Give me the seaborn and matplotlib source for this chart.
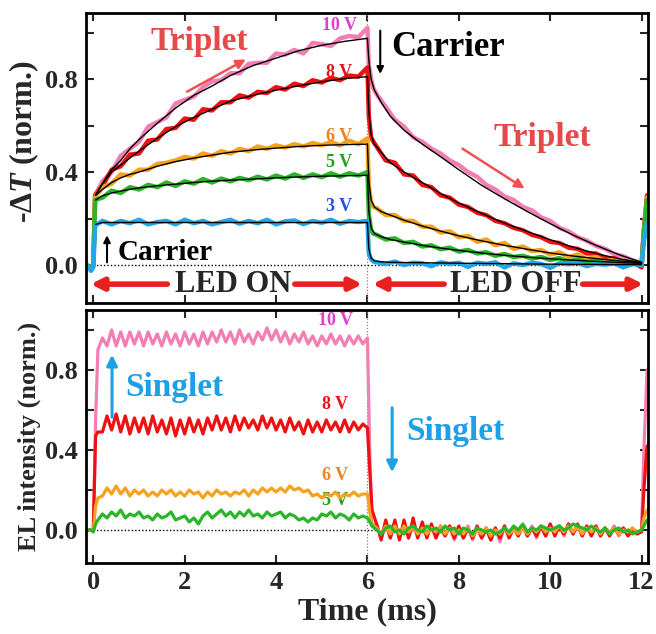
import numpy as np
import matplotlib
matplotlib.use("Agg")
from matplotlib import pyplot as plt
import seaborn as sns

sns.set_theme(style="ticks")
plt.rcParams['font.family'] = ['Liberation Serif', 'DejaVu Serif']
plt.rcParams['font.weight'] = 'bold'
plt.rcParams['mathtext.fontset'] = 'custom'
plt.rcParams['mathtext.it'] = 'Liberation Serif:italic:bold'
plt.rcParams['mathtext.rm'] = 'Liberation Serif:bold'

# ---- top panel: -dT (norm.), data samples ----
t_dt = np.concatenate([[-0.15, -0.05, 0.0, 0.04],
                       np.linspace(0.2, 6.0, 30),
                       [6.03, 6.08, 6.13],
                       np.linspace(6.2, 12.0, 30),
                       [12.05, 12.12]])

dt_10V = [0.0, -0.01, 0.0, 0.30,
          0.36, 0.40, 0.47, 0.50, 0.53, 0.595, 0.615, 0.635, 0.695, 0.71,
          0.725, 0.765, 0.79, 0.795, 0.825, 0.825, 0.865, 0.87, 0.87, 0.91,
          0.905, 0.925, 0.91, 0.955, 0.95, 0.942, 0.975, 0.985, 0.98, 1.02,
          0.86, 0.80, 0.76,
          0.735, 0.68, 0.625, 0.595, 0.55, 0.53, 0.50, 0.48, 0.45, 0.43,
          0.40, 0.38, 0.345, 0.325, 0.295, 0.28, 0.25, 0.235, 0.205, 0.19,
          0.16, 0.145, 0.12, 0.105, 0.083, 0.07, 0.048, 0.038, 0.02, 0.01,
          0.15, 0.30]
dt_8V = [0.0, -0.01, 0.0, 0.30,
         0.34, 0.41, 0.425, 0.475, 0.48, 0.535, 0.54, 0.585, 0.59, 0.63,
         0.625, 0.67, 0.665, 0.70, 0.70, 0.73, 0.72, 0.745, 0.74, 0.765,
         0.755, 0.78, 0.77, 0.795, 0.785, 0.805, 0.795, 0.815, 0.81, 0.85,
         0.64, 0.55, 0.53,
         0.51, 0.45, 0.44, 0.39, 0.385, 0.345, 0.335, 0.30, 0.29, 0.26,
         0.25, 0.225, 0.215, 0.19, 0.18, 0.16, 0.15, 0.13, 0.12, 0.10,
         0.095, 0.075, 0.07, 0.05, 0.05, 0.03, 0.03, 0.015, 0.015, -0.01,
         0.15, 0.30]
dt_6V = [0.0, -0.01, 0.0, 0.29,
         0.335, 0.35, 0.39, 0.385, 0.41, 0.41, 0.435, 0.44, 0.45, 0.465,
         0.458, 0.48, 0.47, 0.49, 0.48, 0.50, 0.49, 0.51, 0.50, 0.515,
         0.505, 0.52, 0.51, 0.525, 0.515, 0.53, 0.515, 0.535, 0.52, 0.545,
         0.34, 0.27, 0.25,
         0.245, 0.215, 0.215, 0.19, 0.19, 0.165, 0.165, 0.14, 0.145, 0.12,
         0.125, 0.10, 0.11, 0.085, 0.095, 0.07, 0.08, 0.06, 0.065, 0.045,
         0.055, 0.035, 0.045, 0.025, 0.035, 0.015, 0.025, 0.01, 0.018, 0.0,
         0.14, 0.29]
dt_5V = [0.0, -0.01, 0.0, 0.28,
         0.29, 0.32, 0.31, 0.335, 0.325, 0.345, 0.335, 0.355, 0.34, 0.36,
         0.35, 0.37, 0.355, 0.372, 0.36, 0.375, 0.365, 0.38, 0.368, 0.385,
         0.372, 0.39, 0.375, 0.39, 0.378, 0.395, 0.38, 0.395, 0.385, 0.40,
         0.22, 0.15, 0.135,
         0.13, 0.11, 0.115, 0.095, 0.10, 0.08, 0.085, 0.068, 0.075, 0.058,
         0.065, 0.05, 0.055, 0.04, 0.048, 0.035, 0.04, 0.028, 0.035, 0.022,
         0.03, 0.015, 0.025, 0.012, 0.02, 0.008, 0.015, 0.005, 0.012, 0.0,
         0.14, 0.28]
dt_3V = [0.0, -0.025, -0.01, 0.17,
         0.19, 0.175, 0.19, 0.18, 0.195, 0.175, 0.185, 0.19, 0.175, 0.195,
         0.18, 0.19, 0.175, 0.185, 0.195, 0.178, 0.19, 0.18, 0.195, 0.175,
         0.188, 0.192, 0.176, 0.19, 0.182, 0.195, 0.178, 0.19, 0.185, 0.19,
         0.05, 0.025, 0.015,
         0.012, 0.005, 0.015, 0.0, 0.01, 0.008, -0.005, 0.012, 0.005, 0.01,
         -0.008, 0.01, 0.005, 0.012, -0.01, 0.008, 0.0, 0.01, 0.005, -0.012,
         0.008, 0.004, 0.01, -0.005, 0.006, 0.002, 0.008, -0.01, 0.005, 0.0,
         0.10, 0.18]

# fitted curves (black lines)
t_fit_on = [0.05, 0.2, 0.4, 0.6, 0.8, 1.0, 1.4, 1.8, 2.2, 2.6, 3.0, 3.5, 4.0, 4.5, 5.0, 5.5, 6.0]
t_fit_off = [6.0, 6.03, 6.08, 6.15, 6.3, 6.5, 6.8, 7.2, 7.6, 8.0, 8.5, 9.0, 9.5, 10.0, 10.5, 11.0, 11.5, 12.0]
fit_on = {
    '10V': [0.30, 0.35, 0.41, 0.45, 0.50, 0.54, 0.61, 0.675, 0.73, 0.77, 0.815, 0.858, 0.89, 0.922, 0.945, 0.962, 0.975],
    '8V': [0.30, 0.35, 0.40, 0.43, 0.46, 0.49, 0.545, 0.595, 0.635, 0.67, 0.705, 0.73, 0.752, 0.771, 0.788, 0.802, 0.81],
    '6V': [0.30, 0.325, 0.355, 0.375, 0.39, 0.40, 0.425, 0.445, 0.46, 0.473, 0.485, 0.495, 0.503, 0.51, 0.515, 0.518, 0.52],
    '5V': [0.28, 0.298, 0.31, 0.318, 0.326, 0.332, 0.341, 0.348, 0.355, 0.361, 0.365, 0.37, 0.375, 0.379, 0.382, 0.384, 0.386],
    '3V': [0.175, 0.183, 0.183, 0.183, 0.183, 0.183, 0.183, 0.183, 0.183, 0.183, 0.183, 0.183, 0.183, 0.183, 0.183, 0.183, 0.183],
}
fit_off = {
    '10V': [0.975, 0.88, 0.80, 0.753, 0.70, 0.64, 0.58, 0.52, 0.466, 0.41, 0.343, 0.285, 0.23, 0.178, 0.129, 0.085, 0.045, 0.012],
    '8V': [0.81, 0.66, 0.56, 0.52, 0.485, 0.44, 0.40, 0.355, 0.308, 0.267, 0.222, 0.18, 0.144, 0.109, 0.077, 0.05, 0.027, 0.01],
    '6V': [0.52, 0.36, 0.28, 0.25, 0.23, 0.215, 0.193, 0.168, 0.146, 0.126, 0.104, 0.085, 0.068, 0.052, 0.039, 0.028, 0.018, 0.009],
    '5V': [0.386, 0.23, 0.16, 0.136, 0.122, 0.11, 0.099, 0.085, 0.073, 0.063, 0.052, 0.042, 0.034, 0.027, 0.021, 0.016, 0.011, 0.007],
    '3V': [0.183, 0.07, 0.03, 0.018, 0.014, 0.012, 0.011, 0.01, 0.009, 0.008, 0.007, 0.006, 0.005, 0.004, 0.003, 0.003, 0.002, 0.002],
}

# ---- bottom panel: EL intensity (norm.) ----
t_el = np.concatenate([[-0.15, -0.05, 0.0, 0.05],
                       np.linspace(0.1, 6.0, 60),
                       [6.05],
                       np.linspace(6.1, 12.0, 60),
                       [12.05, 12.12]])

el_10V = [0.0, 0.0, 0.0, 0.55,
          0.90, 0.96, 0.92, 1.00, 0.92, 0.99, 0.92, 0.99, 0.93, 0.99,
          0.92, 0.99, 0.93, 0.98, 0.92, 0.99, 0.93, 0.98, 0.92, 0.99,
          0.93, 0.98, 0.92, 0.99, 0.93, 0.99, 0.94, 1.00, 0.94, 0.99,
          0.93, 1.00, 0.94, 0.98, 0.93, 0.99, 0.95, 1.01, 0.95, 1.00,
          0.94, 0.99, 0.93, 0.98, 0.94, 0.99, 0.93, 0.97, 0.92, 0.97,
          0.93, 0.98, 0.93, 0.97, 0.92, 0.97, 0.93, 0.97, 0.93, 0.96,
          0.40,
          0.02, 0.03, -0.04, 0.02, -0.04, 0.03, -0.03, 0.02, -0.04, 0.02,
          -0.03, 0.01, -0.03, 0.02, -0.04, 0.01, -0.03, 0.02, -0.05, 0.01,
          -0.04, 0.02, -0.05, 0.01, -0.04, 0.0, -0.05, 0.01, -0.06, 0.02,
          -0.03, 0.01, -0.03, 0.02, -0.03, 0.02, -0.04, 0.02, -0.03, 0.03,
          -0.02, 0.02, -0.03, 0.03, -0.02, 0.02, -0.03, 0.02, -0.02, 0.02,
          -0.03, 0.01, -0.02, 0.02, -0.03, 0.01, -0.02, 0.01, -0.02, 0.0,
          0.40, 0.80]
el_8V = [0.0, 0.0, 0.0, 0.47,
         0.49, 0.49, 0.57, 0.50, 0.58, 0.49, 0.57, 0.48, 0.56, 0.49,
         0.56, 0.48, 0.57, 0.49, 0.55, 0.48, 0.56, 0.47, 0.55, 0.48,
         0.56, 0.49, 0.55, 0.48, 0.56, 0.50, 0.57, 0.50, 0.56, 0.49,
         0.57, 0.50, 0.56, 0.51, 0.55, 0.50, 0.57, 0.51, 0.56, 0.50,
         0.55, 0.49, 0.56, 0.50, 0.54, 0.48, 0.55, 0.49, 0.54, 0.49,
         0.55, 0.50, 0.54, 0.49, 0.55, 0.49, 0.54, 0.50, 0.53, 0.51,
         0.30,
         0.10, 0.03, -0.05, 0.05, -0.04, 0.05, -0.05, 0.05, -0.04, 0.06,
         -0.04, 0.04, -0.04, 0.03, -0.04, 0.02, -0.03, 0.02, -0.04, 0.02,
         -0.04, 0.01, -0.04, 0.02, -0.04, 0.01, -0.05, 0.01, -0.04, 0.02,
         -0.04, 0.01, -0.03, 0.02, -0.03, 0.01, -0.03, 0.02, -0.03, 0.03,
         -0.03, 0.02, -0.02, 0.03, -0.02, 0.03, -0.03, 0.02, -0.03, 0.02,
         -0.03, 0.01, -0.03, 0.01, -0.02, 0.01, -0.03, 0.0, -0.02, -0.01,
         0.20, 0.42]
el_6V = [0.0, 0.0, 0.0, 0.12,
         0.16, 0.17, 0.21, 0.18, 0.22, 0.18, 0.21, 0.17, 0.20, 0.18,
         0.20, 0.17, 0.19, 0.17, 0.20, 0.18, 0.20, 0.17, 0.19, 0.17,
         0.20, 0.18, 0.19, 0.16, 0.19, 0.17, 0.20, 0.18, 0.19, 0.17,
         0.19, 0.18, 0.20, 0.17, 0.20, 0.18, 0.21, 0.19, 0.21, 0.19,
         0.21, 0.19, 0.22, 0.20, 0.21, 0.19, 0.20, 0.17, 0.18, 0.16,
         0.18, 0.17, 0.19, 0.16, 0.18, 0.17, 0.19, 0.17, 0.18, 0.18,
         0.09,
         0.03, 0.01, -0.02, 0.02, -0.02, 0.02, -0.02, 0.02, -0.01, 0.02,
         -0.02, 0.01, -0.02, 0.01, -0.01, 0.02, -0.02, 0.01, -0.02, 0.0,
         -0.02, 0.01, -0.03, 0.0, -0.02, 0.01, -0.03, 0.0, -0.02, 0.01,
         -0.02, 0.0, -0.02, 0.01, -0.02, 0.01, -0.01, 0.02, -0.01, 0.01,
         -0.01, 0.02, -0.01, 0.02, -0.01, 0.02, -0.02, 0.01, -0.01, 0.01,
         -0.02, 0.01, -0.01, 0.01, -0.02, 0.0, -0.01, 0.01, -0.01, 0.0,
         0.06, 0.10]
el_5V = [0.0, 0.0, -0.01, 0.03,
         0.05, 0.08, 0.06, 0.09, 0.07, 0.10, 0.06, 0.08, 0.07, 0.09,
         0.06, 0.07, 0.05, 0.08, 0.06, 0.07, 0.09, 0.05, 0.06, 0.07,
         0.04, 0.06, 0.03, 0.07, 0.09, 0.06, 0.08, 0.10, 0.07, 0.09,
         0.06, 0.09, 0.07, 0.10, 0.07, 0.08, 0.06, 0.09, 0.07, 0.08,
         0.09, 0.06, 0.08, 0.07, 0.05, 0.06, 0.04, 0.06, 0.05, 0.08,
         0.07, 0.09, 0.06, 0.08, 0.07, 0.05, 0.08, 0.06, 0.07, 0.06,
         0.04,
         0.02, 0.0, -0.02, 0.01, 0.02, -0.01, 0.0, -0.02, 0.01, 0.02,
         0.0, -0.01, 0.02, 0.0, 0.01, -0.01, 0.02, 0.0, 0.01, -0.02,
         0.01, 0.0, -0.02, 0.01, 0.0, -0.01, 0.0, -0.02, -0.01, 0.01,
         -0.01, 0.02, 0.0, 0.03, -0.01, 0.01, 0.0, 0.02, 0.01, 0.0,
         0.01, 0.02, 0.0, 0.01, 0.03, 0.02, 0.01, 0.0, 0.02, 0.0,
         -0.01, 0.01, -0.02, 0.0, 0.01, -0.01, 0.0, -0.02, -0.01, 0.0,
         0.02, 0.05]

colors = {'10V': '#f37eb4', '8V': '#ee1111', '6V': '#f6a21e', '5V': '#2bb52b', '3V': '#23a7e8'}
label_colors = {'10V': '#e040c8', '8V': '#e8101a', '6V': '#f08020', '5V': '#20a020', '3V': '#2050e0'}
tri_red = '#e84848'
sky = '#1ea0e6'

fig = plt.figure(figsize=(6.56, 6.34), dpi=100)
ax1 = fig.add_axes([0.1311, 0.5221, 0.8567, 0.4574])
ax2 = fig.add_axes([0.1311, 0.1120, 0.8567, 0.3991])

# top panel
for key, vals in [('10V', dt_10V), ('8V', dt_8V), ('6V', dt_6V), ('5V', dt_5V), ('3V', dt_3V)]:
    sns.lineplot(x=t_dt, y=vals, ax=ax1, color=colors[key], lw=3.2, estimator=None, sort=False)
for key in ['10V', '8V', '6V', '5V', '3V']:
    sns.lineplot(x=t_fit_on, y=fit_on[key], ax=ax1, color='black', lw=1.0, estimator=None, sort=False)
    sns.lineplot(x=t_fit_off, y=fit_off[key], ax=ax1, color='black', lw=1.0, estimator=None, sort=False)

# bottom panel
for key, vals in [('10V', el_10V), ('8V', el_8V), ('6V', el_6V), ('5V', el_5V)]:
    sns.lineplot(x=t_el, y=vals, ax=ax2, color=colors[key], lw=2.3, estimator=None, sort=False)

for ax in (ax1, ax2):
    ax.plot([0, 12], [0, 0], ls=(0, (1, 1.5)), color='black', lw=1.0, zorder=1)
    ax.axvline(6, ls=(0, (1, 1.5)), color='gray', lw=0.9, zorder=1)
    ax.set_xlim(-0.16, 12.14)
    ax.set_xticks(range(0, 13, 2))
    ax.set_yticks([0, 0.2, 0.4, 0.6, 0.8, 1.0])
    ax.set_yticklabels(['0.0', '', '0.4', '', '0.8', ''])
    ax.tick_params(direction='in', length=6, width=1.5, top=True, right=True,
                   labelsize=19, pad=6)
    for sp in ax.spines.values():
        sp.set_linewidth(2.0)
        sp.set_color('black')
    ax.set_xlabel('')

ax1.set_ylim(-0.163, 1.084)
ax2.set_ylim(-0.165, 1.1)
ax1.tick_params(labelbottom=False)
for lab in ax1.get_yticklabels() + ax2.get_yticklabels() + ax2.get_xticklabels():
    lab.set_fontweight('bold')

ax1.set_ylabel(r'-$\mathit{\Delta T}$ (norm.)', fontsize=23, fontweight='bold')
ax2.set_ylabel('EL intensity (norm.)', fontsize=19, fontweight='bold')
ax2.set_xlabel('Time (ms)', fontsize=23, fontweight='bold', labelpad=2)
ax1.yaxis.set_label_coords(-0.08, 0.555)
ax2.yaxis.set_label_coords(-0.08, 0.5)

# voltage labels
top_lab = [('10V', '10 V', 1.03), ('8V', '8 V', 0.828), ('6V', '6 V', 0.555), ('5V', '5 V', 0.44), ('3V', '3 V', 0.25)]
for key, txt, yv in top_lab:
    ax1.text(5.38, yv, txt, color=label_colors[key], fontsize=13, fontweight='bold', ha='center', va='center')
bot_lab = [('10V', '10 V', 1.045), ('8V', '8 V', 0.625), ('6V', '6 V', 0.27), ('5V', '5 V', 0.145)]
for key, txt, yv in bot_lab:
    ax2.text(5.3, yv, txt, color=label_colors[key], fontsize=13, fontweight='bold', ha='center', va='center', zorder=0)

# top annotations
ax1.text(2.32, 0.96, 'Triplet', color=tri_red, fontsize=24, fontweight='bold', ha='center', va='center')
ax1.annotate('', xy=(3.39, 0.89), xytext=(2.0, 0.74),
             arrowprops=dict(arrowstyle='-|>', color='#f05050', lw=1.8, mutation_scale=14))
ax1.text(9.82, 0.55, 'Triplet', color=tri_red, fontsize=24, fontweight='bold', ha='center', va='center')
ax1.annotate('', xy=(9.49, 0.323), xytext=(8.03, 0.507),
             arrowprops=dict(arrowstyle='-|>', color='#f05050', lw=1.8, mutation_scale=14))
ax1.text(7.76, 0.935, 'Carrier', color='black', fontsize=25, fontweight='bold', ha='center', va='center')
ax1.annotate('', xy=(6.28, 0.81), xytext=(6.28, 1.02),
             arrowprops=dict(arrowstyle='-|>', color='black', lw=1.5, mutation_scale=10))
ax1.text(1.57, 0.056, 'Carrier', color='black', fontsize=21, fontweight='bold', ha='center', va='center')
ax1.annotate('', xy=(0.3, 0.14), xytext=(0.3, 0.0),
             arrowprops=dict(arrowstyle='-|>', color='black', lw=1.5, mutation_scale=10))

# LED ON / OFF arrows
led_y = -0.082
red_arrow = dict(arrowstyle='-|>', color='#e8201e', lw=4, mutation_scale=18)
ax1.text(3.06, led_y, 'LED ON', fontsize=22, fontweight='bold', ha='center', va='center')
ax1.annotate('', xy=(-0.12, led_y), xytext=(1.68, led_y), arrowprops=red_arrow)
ax1.annotate('', xy=(5.95, led_y), xytext=(4.35, led_y), arrowprops=red_arrow)
ax1.text(9.25, led_y, 'LED OFF', fontsize=22, fontweight='bold', ha='center', va='center')
ax1.annotate('', xy=(6.05, led_y), xytext=(7.74, led_y), arrowprops=red_arrow)
ax1.annotate('', xy=(12.1, led_y), xytext=(10.65, led_y), arrowprops=red_arrow)

# bottom annotations
ax2.text(1.77, 0.71, 'Singlet', color=sky, fontsize=24, fontweight='bold', ha='center', va='center')
ax2.annotate('', xy=(0.41, 0.89), xytext=(0.41, 0.55),
             arrowprops=dict(arrowstyle='-|>', color=sky, lw=2.2, mutation_scale=16))
ax2.text(7.92, 0.49, 'Singlet', color=sky, fontsize=24, fontweight='bold', ha='center', va='center')
ax2.annotate('', xy=(6.54, 0.275), xytext=(6.54, 0.625),
             arrowprops=dict(arrowstyle='-|>', color=sky, lw=2.2, mutation_scale=16))

fig.savefig('out.png', dpi=100)
